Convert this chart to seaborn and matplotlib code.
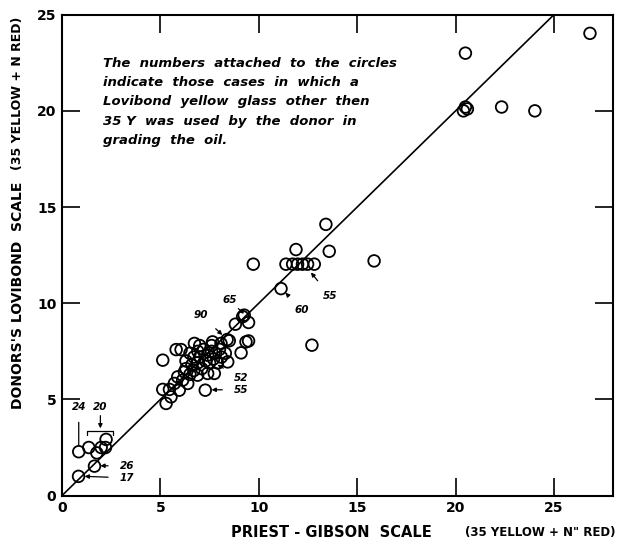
import matplotlib
matplotlib.use("Agg")
import matplotlib.pyplot as plt
import seaborn as sns
import pandas as pd

# Priest-Gibson scale (x) vs donor's Lovibond scale (y)
priest_gibson = [
    0.84, 1.65, 0.85, 1.36, 1.77, 1.99, 2.21, 2.24,
    5.12, 5.29, 5.46, 5.54, 5.71, 5.96, 6.13, 6.39, 5.88, 6.22, 5.12,
    5.80, 6.05, 6.73, 7.65, 8.08, 8.42, 6.89, 7.40, 7.74, 7.28, 8.39, 8.50,
    9.10, 9.35, 9.48, 8.81, 9.26, 9.48, 9.18,
    6.3, 6.5, 6.6, 6.7, 6.9, 6.9, 7.0, 7.1, 7.2, 7.3, 7.4, 7.5, 7.6, 7.7,
    7.8, 7.9, 8.0, 8.1, 8.3, 6.5, 6.3, 6.7, 7.0, 7.6,
    9.72, 11.13, 11.38, 11.72, 11.89, 11.97, 12.22, 12.48, 12.82, 13.58,
    13.41, 15.86, 12.70,
    20.4, 20.6, 20.5, 20.5, 22.34, 24.03, 26.83,
]
donor_lovibond = [
    1.00, 1.53, 2.28, 2.50, 2.22, 2.50, 2.50, 2.92,
    5.52, 4.79, 5.52, 5.13, 5.83, 5.48, 6.00, 5.83, 6.17, 6.43, 7.04,
    7.59, 7.59, 7.91, 7.99, 7.91, 6.95, 6.26, 6.35, 6.35, 5.48, 8.11, 8.05,
    7.42, 7.99, 8.04, 8.91, 9.38, 9.00, 9.30,
    7.0, 7.4, 6.8, 7.2, 7.5, 6.9, 7.2, 6.6, 7.6, 7.0, 7.3, 6.9, 7.5, 7.1,
    7.4, 6.9, 7.6, 7.2, 7.4, 6.3, 6.6, 6.5, 7.8, 7.8,
    12.03, 10.76, 12.03, 12.03, 12.79, 12.03, 12.03, 12.03, 12.03, 12.70,
    14.10, 12.20, 7.82,
    20.0, 20.1, 20.2, 23.0, 20.2, 20.0, 24.03,
]
line_x = [0, 25]
line_y = [0, 25]

# numbered glass labels: text, label position, arrow tip
glass_labels = ["24", "26", "17", "52", "55", "90", "65", "60", "55"]
label_pos = [(0.85, 4.6), (3.3, 1.55), (3.3, 0.92), (9.1, 6.1), (9.1, 5.5),
             (7.05, 9.4), (8.5, 10.15), (12.2, 9.65), (13.6, 10.4)]
arrow_tip = [(0.85, 2.62), (1.95, 1.55), (1.15, 1.0), (7.9, 6.8), (7.6, 5.5),
             (8.15, 8.35), (9.25, 9.45), (11.35, 10.55), (12.65, 11.6)]

note = ("The  numbers  attached  to  the  circles\n"
        "indicate  those  cases  in  which  a\n"
        "Lovibond  yellow  glass  other  then\n"
        "35 Y  was  used  by  the  donor  in\n"
        "grading  the  oil.")

df = pd.DataFrame({"pg": priest_gibson, "dl": donor_lovibond})

sns.set_style("white")
plt.rcParams["font.family"] = ["DejaVu Sans"]
plt.rcParams["text.color"] = "black"
plt.rcParams["xtick.color"] = "black"
plt.rcParams["ytick.color"] = "black"

fig = plt.figure(figsize=(6.17, 5.44), dpi=100)
ax = fig.add_axes([0.1005, 0.089, 0.893, 0.884])

sns.lineplot(x=line_x, y=line_y, color="black", linewidth=1.2, ax=ax)
sns.scatterplot(data=df, x="pg", y="dl", marker="o", s=70,
                facecolors="none", edgecolor="black", linewidth=1.3, ax=ax)

ax.set_xlim(0, 28)
ax.set_ylim(0, 25)
ax.set_xticks([0, 5, 10, 15, 20, 25])
ax.set_yticks([0, 5, 10, 15, 20, 25])
ax.tick_params(direction="in", length=13, width=1.2, top=True, right=True,
               bottom=True, left=True, labelsize=10, pad=4,
               color="black", labelcolor="black")
for lab in ax.get_xticklabels() + ax.get_yticklabels():
    lab.set_fontweight("bold")
for sp in ax.spines.values():
    sp.set_color("black")
    sp.set_linewidth(1.5)
ax.set_xlabel("")
ax.set_ylabel("")

# glass numbers with arrows
for txt, (tx, ty), (px, py) in zip(glass_labels, label_pos, arrow_tip):
    if txt == "24":
        ax.annotate(txt, xy=(px, py), xytext=(tx, ty), fontsize=7.5,
                    fontweight="bold", fontstyle="italic", ha="center", va="center",
                    arrowprops=dict(arrowstyle="-", color="black", lw=0.9,
                                    shrinkA=5, shrinkB=0))
    else:
        ax.annotate(txt, xy=(px, py), xytext=(tx, ty), fontsize=7.5,
                    fontweight="bold", fontstyle="italic", ha="center", va="center",
                    arrowprops=dict(arrowstyle="-|>", mutation_scale=6,
                                    color="black", lw=0.9, shrinkA=6, shrinkB=0))

# "20" label with bracket over its group
ax.text(1.95, 4.6, "20", fontsize=7.5, fontweight="bold", fontstyle="italic",
        ha="center", va="center")
ax.annotate("", xy=(1.95, 3.35), xytext=(1.95, 4.3),
            arrowprops=dict(arrowstyle="-|>", mutation_scale=6, color="black", lw=0.9))
ax.plot([1.25, 1.25, 2.6, 2.6], [3.15, 3.35, 3.35, 3.15], color="black", lw=0.9)

ax.text(2.08, 22.8, note, fontsize=9.5, fontweight="bold", fontstyle="italic",
        ha="left", va="top", linespacing=1.62)

# axis titles in two sizes
fig.text(0.374, 0.021, "PRIEST - GIBSON  SCALE", fontsize=10.5, fontweight="bold",
         ha="left", va="center")
fig.text(0.997, 0.021, '(35 YELLOW + N" RED)', fontsize=8.5, fontweight="bold",
         ha="right", va="center")
fig.text(0.029, 0.248, "DONORS'S LOVIBOND  SCALE", fontsize=10, fontweight="bold",
         rotation=90, ha="center", va="bottom")
fig.text(0.029, 0.6875, "(35 YELLOW + N RED)", fontsize=9, fontweight="bold",
         rotation=90, ha="center", va="bottom")

fig.savefig("out.png", dpi=100)
